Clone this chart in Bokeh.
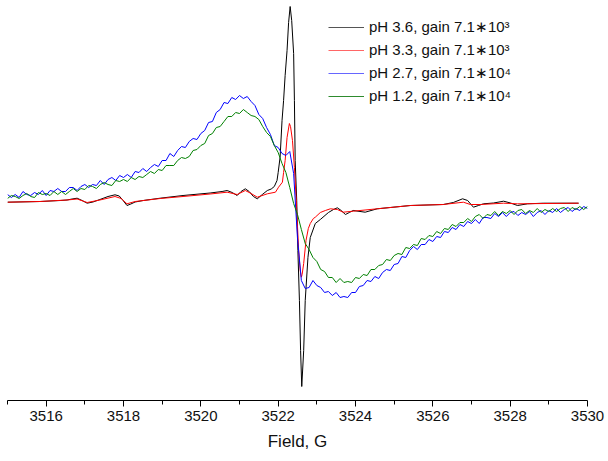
import numpy as np
from bokeh.plotting import figure
from bokeh.models import Range1d, FixedTicker, Legend, LegendItem
from bokeh.embed import file_html
from bokeh.resources import INLINE

# ---- data (field in G, signal in arbitrary units) ----
black_field = [3515.00, 3515.84, 3516.36, 3516.54, 3516.67, 3516.80, 3516.93, 3517.06, 3517.21, 3517.39,
               3517.60, 3517.78, 3517.89, 3517.99, 3518.09, 3518.19, 3518.30, 3518.51, 3518.95, 3519.54,
               3520.24, 3520.55, 3520.68, 3520.81, 3520.94, 3521.04, 3521.15, 3521.25, 3521.36, 3521.46,
               3521.59, 3521.72, 3521.82, 3521.90, 3521.97, 3522.00, 3522.05, 3522.10, 3522.14, 3522.18,
               3522.23, 3522.27, 3522.31, 3522.35, 3522.40, 3522.42, 3522.44, 3522.48, 3522.51, 3522.55,
               3522.58, 3522.61, 3522.66, 3522.70, 3522.77, 3522.83, 3522.96, 3523.09, 3523.30, 3523.43,
               3523.53, 3523.63, 3523.74, 3523.84, 3523.94, 3524.25, 3524.56, 3525.42, 3526.27, 3526.53,
               3526.77, 3526.90, 3527.05, 3527.18, 3527.31, 3527.57, 3527.83, 3528.01, 3528.19, 3528.45,
               3528.86, 3529.77]
black_signal = [-1.7, -1, 0, 0.5, 1.5, 2.3, 0, -2.7, -1.5, 1,
                4, 5.7, 4.5, 0, -5, -3.5, -1.5, 0, 2.3, 5,
                7.5, 9, 10, 8, 5, 9, 11.7, 9, 4, 1.7,
                6, 10, 11.5, 14, 20, 28, 43.3, 80, 100, 125,
                150, 178, 194, 180, 147, 100, 40, 0, -50, -100,
                -150, -186, -150, -100, -57, -37, -23, -19, -12, -9,
                -7.3, -10, -14, -12, -10, -11.7, -8.3, -5, -4, -2,
                1.7, 0, -6.7, -5, -3.3, -2.5, -0.7, -2.5, -5, -3.3,
                -2.7, -2.7]

red_field = [3515.00, 3515.84, 3516.54, 3516.80, 3517.06, 3517.39, 3517.78, 3517.94, 3518.09, 3518.30,
             3518.95, 3519.54, 3520.24, 3520.68, 3520.94, 3521.15, 3521.30, 3521.46, 3521.72, 3521.93,
             3522.01, 3522.11, 3522.14, 3522.18, 3522.23, 3522.29, 3522.32, 3522.37, 3522.42, 3522.46,
             3522.48, 3522.53, 3522.57, 3522.60, 3522.62, 3522.66, 3522.72, 3522.78, 3522.83, 3522.91,
             3522.96, 3523.09, 3523.22, 3523.35, 3523.53, 3523.68, 3523.94, 3524.56, 3525.42, 3526.27,
             3526.79, 3526.97, 3527.23, 3527.83, 3528.19, 3529.77]
red_signal = [-1.7, -1, 0.5, 1.5, -2, 0.5, 4, 2, -3.3, -1,
              2, 4, 6.5, 8.3, 6, 10, 7, 3.3, 6.7, 8.3,
              13.3, 18.3, 28, 40, 63, 77, 74, 60, 33, 5,
              -10, -50, -70, -76.7, -74, -63, -40, -28, -23, -18,
              -16.7, -12, -10, -8.3, -9, -11.7, -10.7, -8.3, -5, -4,
              -1.7, -4, -4, -2.7, -3.3, -2.7]

# regular field grid of the noisy spectra (0.1 G step)
noisy_field = np.round(np.arange(3515.0, 3530.0001, 0.1), 2)

blue_signal = [6, 3, 6, 3, 9, 6, 5, 8, 6, 10,
               5, 10, 9, 12, 9, 9, 13, 13, 10, 14,
               16, 13, 16, 15, 20, 16, 21, 23, 20, 25,
               23, 26, 23, 29, 28, 32, 29, 33, 36, 34,
               40, 40, 47, 44, 50, 54, 53, 59, 62, 61,
               67, 70, 78, 79, 88, 91, 98, 97, 103, 101,
               105, 102, 104, 99, 95, 86, 82, 73, 66, 55,
               53, 47, 45, 49, 27, -38, -80, -88, -87, -80,
               -85, -87, -92, -91, -95, -92, -97, -96, -97, -92,
               -92, -86, -85, -80, -81, -76, -78, -72, -69, -70,
               -64, -63, -56, -57, -50, -46, -49, -44, -44, -39,
               -41, -36, -37, -31, -32, -27, -29, -24, -26, -21,
               -23, -19, -23, -17, -17, -18, -13, -16, -12, -16,
               -12, -11, -15, -12, -14, -11, -16, -12, -10, -14,
               -10, -12, -8, -12, -9, -7, -11, -8, -10, -6,
               -8]

green_signal = [2, 5, 4, 2, 5, 7, 4, 3, 8, 6,
                7, 5, 9, 6, 9, 6, 9, 12, 9, 12,
                11, 15, 14, 12, 16, 18, 16, 15, 20, 19,
                21, 19, 23, 21, 24, 23, 26, 29, 27, 31,
                30, 35, 35, 35, 40, 43, 42, 44, 50, 51,
                55, 57, 65, 67, 73, 74, 79, 84, 84, 88,
                87, 91, 88, 85, 84, 81, 74, 68, 64, 55,
                48, 37, 28, 13, -3, -14, -29, -43, -49, -57,
                -61, -69, -71, -77, -77, -82, -78, -82, -81, -82,
                -77, -78, -74, -75, -69, -69, -65, -64, -59, -60,
                -55, -53, -54, -47, -48, -44, -45, -38, -39, -35,
                -36, -31, -33, -28, -29, -24, -26, -22, -22, -18,
                -21, -16, -14, -18, -14, -15, -11, -15, -11, -13,
                -10, -14, -10, -9, -13, -10, -12, -8, -12, -9,
                -11, -8, -11, -8, -7, -11, -7, -9, -6, -9,
                -6]

labels = ["pH 3.6, gain 7.1\u221710\u00b3",
          "pH 3.3, gain 7.1\u221710\u00b3",
          "pH 2.7, gain 7.1\u221710\u2074",
          "pH 1.2, gain 7.1\u221710\u2074"]
series_colors = ["#000000", "#ff0000", "#0000ff", "#008000"]
legend_colors = ["#555555", "#ff6666", "#6666ff", "#2e8b2e"]
major_ticks = [3516, 3518, 3520, 3522, 3524, 3526, 3528, 3530]
minor_ticks = [3515, 3517, 3519, 3521, 3523, 3525, 3527, 3529]

# ---- figure ----
p = figure(width=608, height=461, output_backend="svg", toolbar_location=None,
           x_range=Range1d(3515, 3530), y_range=Range1d(-200, 200),
           y_axis_location=None, min_border_left=7, min_border_right=21,
           min_border_top=0, min_border_bottom=61)
p.outline_line_color = None
p.xgrid.visible = False
p.ygrid.visible = False
p.background_fill_color = "white"

p.line(black_field, black_signal, line_color=series_colors[0], line_width=1)
p.line(red_field, red_signal, line_color=series_colors[1], line_width=1)
p.line(noisy_field, blue_signal, line_color=series_colors[2], line_width=1)
p.line(noisy_field, green_signal, line_color=series_colors[3], line_width=1)

# invisible (NaN) renderers used only as legend swatches
swatches = [p.line([float("nan")], [float("nan")], line_color=c, line_width=1)
            for c in legend_colors]

ax = p.xaxis[0]
ax.ticker = FixedTicker(ticks=major_ticks, minor_ticks=minor_ticks)
ax.axis_label = "Field, G"
ax.axis_label_text_font = "Liberation Sans"
ax.axis_label_text_font_size = "17px"
ax.axis_label_text_font_style = "normal"
ax.axis_label_text_color = "#111111"
ax.axis_label_standoff = 8
ax.major_label_text_font = "Liberation Sans"
ax.major_label_text_font_size = "15px"
ax.major_label_text_color = "#111111"
ax.major_label_standoff = 4
ax.major_tick_in = 0
ax.major_tick_out = 6
ax.minor_tick_in = 0
ax.minor_tick_out = 4
ax.axis_line_color = "black"
ax.major_tick_line_color = "black"
ax.minor_tick_line_color = "black"

legend = Legend(items=[LegendItem(label=lab, renderers=[r]) for lab, r in zip(labels, swatches)],
                location=(321, 294), padding=0, margin=0, spacing=3,
                glyph_width=36, glyph_height=20, label_height=20, label_standoff=5,
                border_line_color=None, background_fill_alpha=0,
                label_text_font="Liberation Sans", label_text_font_size="15px",
                label_text_color="#111111")
p.add_layout(legend, "center")

open("out.html", "w").write(file_html(p, INLINE))
